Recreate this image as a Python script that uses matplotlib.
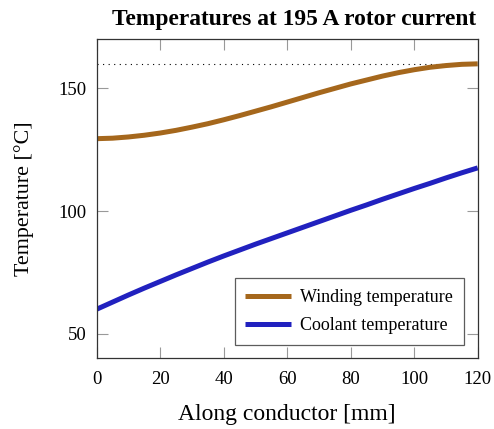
import matplotlib
matplotlib.use("Agg")
import matplotlib.pyplot as plt

plt.rcParams['font.family'] = ['Liberation Serif', 'DejaVu Serif']

# position along the conductor [mm]
position = [0, 5, 10, 15, 20, 25, 30, 35, 40, 45, 50, 55, 60,
            65, 70, 75, 80, 85, 90, 95, 100, 105, 110, 115, 120]
# temperatures [degC]
winding = [129.5, 129.7, 130.2, 130.9, 131.8, 132.9, 134.2, 135.6, 137.2, 138.9, 140.7, 142.5, 144.4,
           146.3, 148.2, 150.0, 151.8, 153.4, 155.0, 156.4, 157.6, 158.6, 159.3, 159.8, 160.0]
coolant = [60.0, 62.9, 65.8, 68.6, 71.3, 74.0, 76.6, 79.2, 81.7, 84.1, 86.5, 88.8, 91.1,
           93.4, 95.7, 98.0, 100.3, 102.5, 104.8, 107.0, 109.2, 111.3, 113.5, 115.6, 117.6]
limit_temp = 160

fig = plt.figure(figsize=(4.94, 4.29), dpi=100)
ax = fig.add_axes([0.1957, 0.1648, 0.7713, 0.7436])

ax.axhline(limit_temp, color='black', linestyle=(0, (1, 4)), linewidth=0.8)
ax.plot(position, winding, color='#a5671c', linewidth=3.6, label='Winding temperature',
        solid_capstyle='butt')
ax.plot(position, coolant, color='#2121bf', linewidth=3.6, label='Coolant temperature',
        solid_capstyle='butt')

ax.set_xlim(0, 120)
ax.set_ylim(40, 170)
ax.set_xticks([0, 20, 40, 60, 80, 100, 120])
ax.set_yticks([50, 100, 150])
ax.tick_params(direction='in', length=8, width=0.8, color='#999999',
               top=True, right=True, labelsize=13.5, pad=7)
ax.tick_params(axis='x', pad=9)
for s in ax.spines.values():
    s.set_color('#333333')
    s.set_linewidth(0.9)

ax.set_xlabel('Along conductor [mm]', fontsize=17, labelpad=12)
ax.set_ylabel('Temperature [°C]', fontsize=15.8, labelpad=18)
ax.set_title('Temperatures at 195 A rotor current', fontsize=16.9, fontweight='bold',
             pad=10, x=0.517)

leg = ax.legend(loc='lower right', fontsize=13, frameon=True, fancybox=False,
                edgecolor='#333333', handlelength=2.55, handletextpad=0.5,
                borderaxespad=0.75, borderpad=0.6, labelspacing=0.6)
leg.get_frame().set_linewidth(0.9)

fig.savefig('out.png', dpi=100)
